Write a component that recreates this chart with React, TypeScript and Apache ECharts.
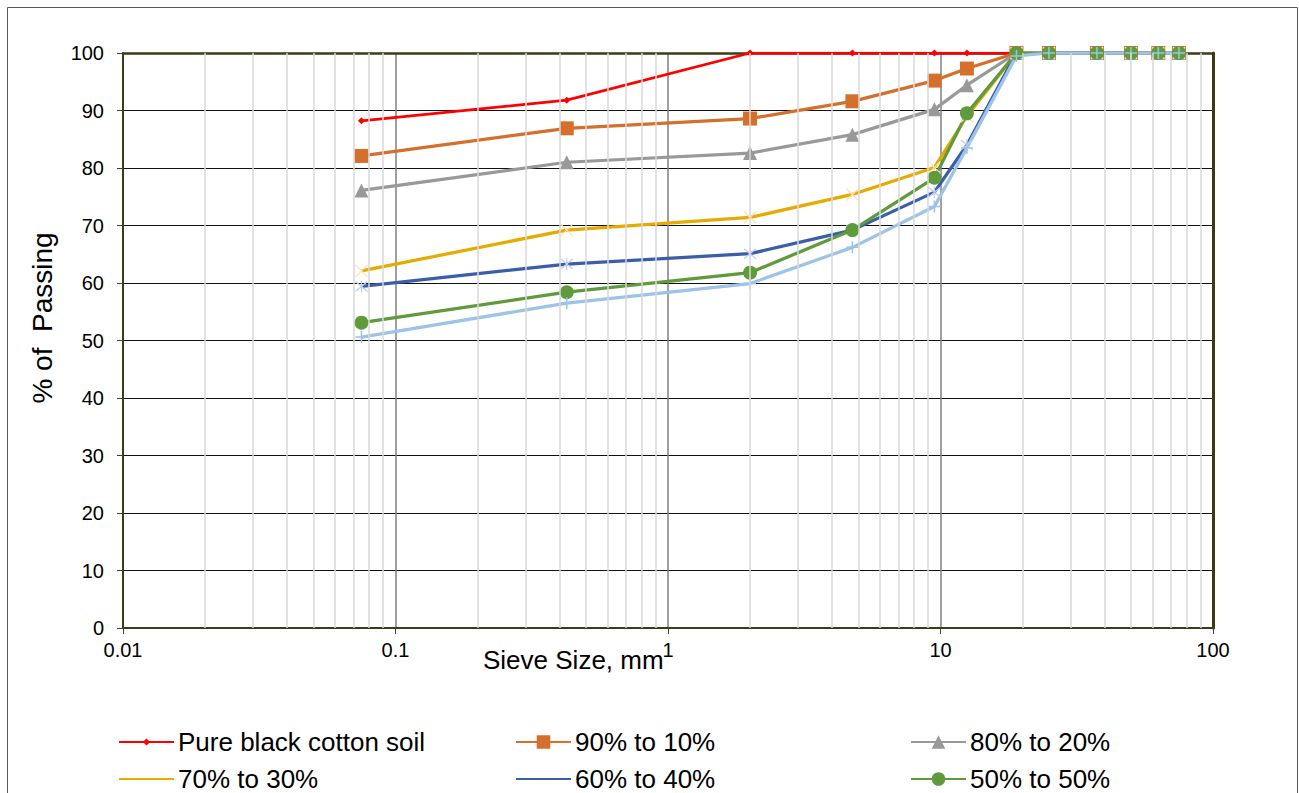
import React, { useEffect, useRef } from "react";
import * as echarts from "echarts";

// Sieve openings (mm) and cumulative % passing for each soil blend
const sieveSizes = [0.075, 0.425, 2, 4.75, 9.5, 12.5, 19, 25, 37.5, 50, 63, 75];
const pureSoil = [88.2, 91.8, 100, 100, 100, 100, 100, 100, 100, 100, 100, 100];
const blend90 = [82.1, 86.9, 88.6, 91.6, 95.2, 97.3, 100, 100, 100, 100, 100, 100];
const blend80 = [76.1, 81.0, 82.6, 85.8, 90.2, 94.4, 100, 100, 100, 100, 100, 100];
const blend70 = [62.1, 69.2, 71.4, 75.4, 80.1, 89.0, 100, 100, 100, 100, 100, 100];
const blend60 = [59.4, 63.3, 65.1, 69.2, 75.8, 84.0, 100, 100, 100, 100, 100, 100];
const blend50 = [53.1, 58.4, 61.8, 69.2, 78.3, 89.5, 100, 100, 100, 100, 100, 100];
const blend40 = [50.6, 56.5, 59.9, 66.2, 73.3, 83.5, 99.5, 100, 100, 100, 100, 100];

const seriesNames = [
  "Pure black cotton soil",
  "90% to 10%",
  "80% to 20%",
  "70% to 30%",
  "60% to 40%",
  "50% to 50%",
  "40% to 60%",
];

// Intermediate log-scale gridlines (2..9 in each decade)
const minorGridSizes = [
  0.02, 0.03, 0.04, 0.05, 0.06, 0.07, 0.08, 0.09,
  0.2, 0.3, 0.4, 0.5, 0.6, 0.7, 0.8, 0.9,
  2, 3, 4, 5, 6, 7, 8, 9,
  20, 30, 40, 50, 60, 70, 80, 90,
];

const FONT = "'Liberation Sans', Arial, sans-serif";
const FRAME = "#3c3c14";

const pairs = (ys: number[]) => sieveSizes.map((x, i) => [x, ys[i]]);

const SYM_X = "path://M0,0L10,10M10,0L0,10";
const SYM_STAR = "path://M0,0L10,10M10,0L0,10M5,-1L5,11";
const SYM_PLUS = "path://M5,0L5,10M0,5L10,5";

export default function App() {
  const ref = useRef<HTMLDivElement>(null);

  useEffect(() => {
    if (!ref.current) return;
    const chart = echarts.init(ref.current, undefined, { renderer: "svg" });

    const lineSeries = (
      name: string,
      ys: number[],
      color: string,
      symbol: string,
      symbolSize: number,
      width: number,
      itemStyle: any
    ) => ({
      type: "line",
      name,
      data: pairs(ys),
      xAxisIndex: 0,
      yAxisIndex: 0,
      symbol,
      symbolSize,
      showSymbol: true,
      lineStyle: { color, width },
      itemStyle,
      z: 3,
    });

    // Legend entries: the faint-marker blends show only their line in the key
    const legendSlots = [
      { left: 118, top: 729, h: 9, plain: false },
      { left: 515, top: 729, h: 17, plain: false },
      { left: 910, top: 729, h: 17, plain: false },
      { left: 118, top: 766, h: 17, plain: true },
      { left: 515, top: 766, h: 17, plain: true },
      { left: 910, top: 766, h: 17, plain: false },
    ];

    chart.setOption({
      animation: false,
      backgroundColor: "#ffffff",
      grid: { left: 123, right: 86, top: 53, bottom: 165, containLabel: false },
      xAxis: [
        {
          type: "log",
          logBase: 10,
          min: 0.01,
          max: 100,
          axisLine: { show: true, onZero: false, lineStyle: { color: FRAME, width: 2 } },
          axisTick: { show: true, length: 6, lineStyle: { color: "#404040" } },
          minorTick: { show: false },
          splitLine: { show: true, lineStyle: { color: "#7f7f7f", width: 1.5 } },
          axisLabel: {
            fontFamily: FONT,
            fontSize: 20,
            color: "#000",
            margin: 12,
            formatter: (v: number) => String(v),
          },
        },
        {
          type: "log",
          logBase: 10,
          min: 0.01,
          max: 100,
          position: "top",
          axisLine: { show: true, onZero: false, lineStyle: { color: FRAME, width: 2.5 } },
          axisTick: { show: false },
          axisLabel: { show: false },
          splitLine: { show: false },
        },
      ],
      yAxis: [
        {
          type: "value",
          min: 0,
          max: 100,
          interval: 10,
          axisLine: { show: true, onZero: false, lineStyle: { color: FRAME, width: 2 } },
          axisTick: { show: true, length: 6, lineStyle: { color: "#404040" } },
          splitLine: { show: true, lineStyle: { color: "#111", width: 1.2 } },
          axisLabel: { fontFamily: FONT, fontSize: 20, color: "#000", margin: 19 },
        },
        {
          type: "value",
          min: 0,
          max: 100,
          interval: 10,
          position: "right",
          axisLine: { show: true, onZero: false, lineStyle: { color: FRAME, width: 3 } },
          axisTick: { show: false },
          axisLabel: { show: false },
          splitLine: { show: false },
        },
      ],
      legend: legendSlots.map((s, i) => ({
        data: [
          s.plain
            ? {
                name: seriesNames[i],
                itemStyle: { color: "transparent", borderColor: "transparent", borderWidth: 0 },
              }
            : { name: seriesNames[i] },
        ],
        left: s.left,
        top: s.top,
        itemWidth: 55,
        itemHeight: s.h,
        itemGap: 0,
        padding: 0,
        selectedMode: false,
        textStyle: { fontFamily: FONT, fontSize: 26, color: "#000", padding: [0, 0, 0, -1] },
      })),
      graphic: [
        {
          type: "rect",
          shape: { x: 7.5, y: 7.5, width: 1290, height: 900 },
          style: { fill: "none", stroke: "#595959", lineWidth: 1 },
          silent: true,
          z: -1,
        },
        {
          type: "text",
          x: 483,
          y: 660,
          style: {
            text: "Sieve Size, mm",
            fontFamily: FONT,
            fontSize: 26,
            fill: "#000",
            verticalAlign: "middle",
          },
        },
        {
          type: "text",
          x: 42,
          y: 318,
          rotation: Math.PI / 2,
          style: {
            text: "% of  Passing",
            fontFamily: FONT,
            fontSize: 28,
            fill: "#000",
            align: "center",
            verticalAlign: "middle",
          },
        },
      ],
      series: [
        {
          type: "line",
          name: "minor-grid",
          data: [],
          silent: true,
          z: 1,
          markLine: {
            silent: true,
            symbol: ["none", "none"],
            label: { show: false },
            lineStyle: { color: "#d9d9d9", width: 1.5, type: "solid" },
            emphasis: { disabled: true },
            data: minorGridSizes.map((v) => ({ xAxis: v })),
          },
        },
        lineSeries(seriesNames[0], pureSoil, "#ff0000", "diamond", 7, 2.75, { color: "#ff0000" }),
        lineSeries(seriesNames[1], blend90, "#d4702c", "rect", 14, 3.25, { color: "#d4702c" }),
        lineSeries(seriesNames[2], blend80, "#999999", "triangle", 14, 3.25, { color: "#999999" }),
        lineSeries(seriesNames[3], blend70, "#e5ab00", SYM_X, 12, 3.25, {
          color: "none",
          borderColor: "#fae3b8",
          borderWidth: 1.25,
        }),
        lineSeries(seriesNames[4], blend60, "#3a5ea9", SYM_STAR, 12, 3.25, {
          color: "none",
          borderColor: "#c3d0ec",
          borderWidth: 1.25,
        }),
        lineSeries(seriesNames[5], blend50, "#5f9b3c", "circle", 14, 3.25, { color: "#5f9b3c" }),
        lineSeries(seriesNames[6], blend40, "#9dc3e6", SYM_PLUS, 12, 3.25, {
          color: "none",
          borderColor: "#9dc3e6",
          borderWidth: 1.5,
        }),
      ],
    });

    return () => chart.dispose();
  }, []);

  return (
    <div
      ref={ref}
      style={{ position: "absolute", left: 0, top: 0, width: 1299, height: 793 }}
    />
  );
}
